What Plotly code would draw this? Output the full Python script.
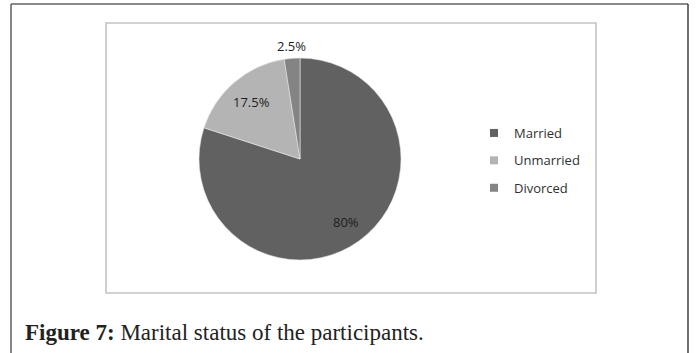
import math
import plotly.graph_objects as go

# Marital status of the participants (percent of respondents)
categories = ["Married", "Unmarried", "Divorced"]
shares = [80, 17.5, 2.5]
colors = ["#616161", "#b4b4b4", "#848484"]
# radial position of each value label, as a fraction of the pie radius
label_radius = [0.77, 0.74, 1.12]

W, H = 696, 353


def px_x(v):
    return v / W


def px_y(v):
    return 1 - v / H


# pie centre and radius in pixels
cx, cy, r = 300, 159, 101

fig = go.Figure()

fig.add_trace(go.Pie(
    labels=categories,
    values=shares,
    sort=False,
    direction="clockwise",
    rotation=0,
    marker=dict(colors=colors, line=dict(color="#e6e6e6", width=0.6)),
    textinfo="none",
    showlegend=False,
    hoverinfo="label+percent",
    domain=dict(x=[px_x(cx - r), px_x(cx + r)], y=[px_y(cy + r), px_y(cy - r)]),
))

# legend entries with small square swatches, one group each for spacing
for name, col in zip(categories, colors):
    fig.add_trace(go.Scatter(
        x=[None], y=[None], mode="markers", name=name,
        marker=dict(symbol="square", size=8, color=col),
        legendgroup=name, showlegend=True,
    ))

# value labels placed along each slice's mid-angle (clockwise from 12 o'clock)
annotations = []
total = sum(shares)
cum = 0.0
for val, f in zip(shares, label_radius):
    mid = (cum + val / 2) / total * 2 * math.pi
    cum += val
    lx = cx + f * r * math.sin(mid)
    ly = cy - f * r * math.cos(mid)
    annotations.append(dict(
        xref="paper", yref="paper", x=px_x(lx), y=px_y(ly),
        xanchor="center", yanchor="middle", showarrow=False,
        text=f"{val:g}%",
        font=dict(family="Open Sans", size=13, color="#1e1e1e"),
    ))

annotations.append(dict(
    xref="paper", yref="paper", x=px_x(23), y=px_y(332),
    xanchor="left", yanchor="middle", showarrow=False,
    text="<b>Figure 7:</b> Marital status of the participants.",
    font=dict(family="Liberation Serif", size=23, color="#222222"),
))

shapes = [
    # chart frame
    dict(type="rect", xref="paper", yref="paper",
         x0=px_x(106), x1=px_x(596), y0=px_y(293), y1=px_y(23),
         line=dict(color="#c4c4c4", width=1.6)),
    # outer figure frame
    dict(type="line", xref="paper", yref="paper",
         x0=px_x(11), x1=px_x(688), y0=px_y(4), y1=px_y(4),
         line=dict(color="#8a8a8a", width=1.8)),
    dict(type="line", xref="paper", yref="paper",
         x0=px_x(11), x1=px_x(11), y0=px_y(4), y1=px_y(360),
         line=dict(color="#555555", width=1.4)),
    dict(type="line", xref="paper", yref="paper",
         x0=px_x(688), x1=px_x(688), y0=px_y(4), y1=px_y(360),
         line=dict(color="#333333", width=1.4)),
]

fig.update_layout(
    width=W, height=H,
    margin=dict(l=0, r=0, t=0, b=0),
    paper_bgcolor="white", plot_bgcolor="white",
    xaxis=dict(visible=False), yaxis=dict(visible=False),
    shapes=shapes,
    legend=dict(
        x=px_x(474), y=px_y(118), xanchor="left", yanchor="top",
        font=dict(family="Open Sans", size=13, color="#303030"),
        tracegroupgap=7.5, bgcolor="rgba(0,0,0,0)",
    ),
    annotations=annotations,
)

fig.write_html("out.html")
